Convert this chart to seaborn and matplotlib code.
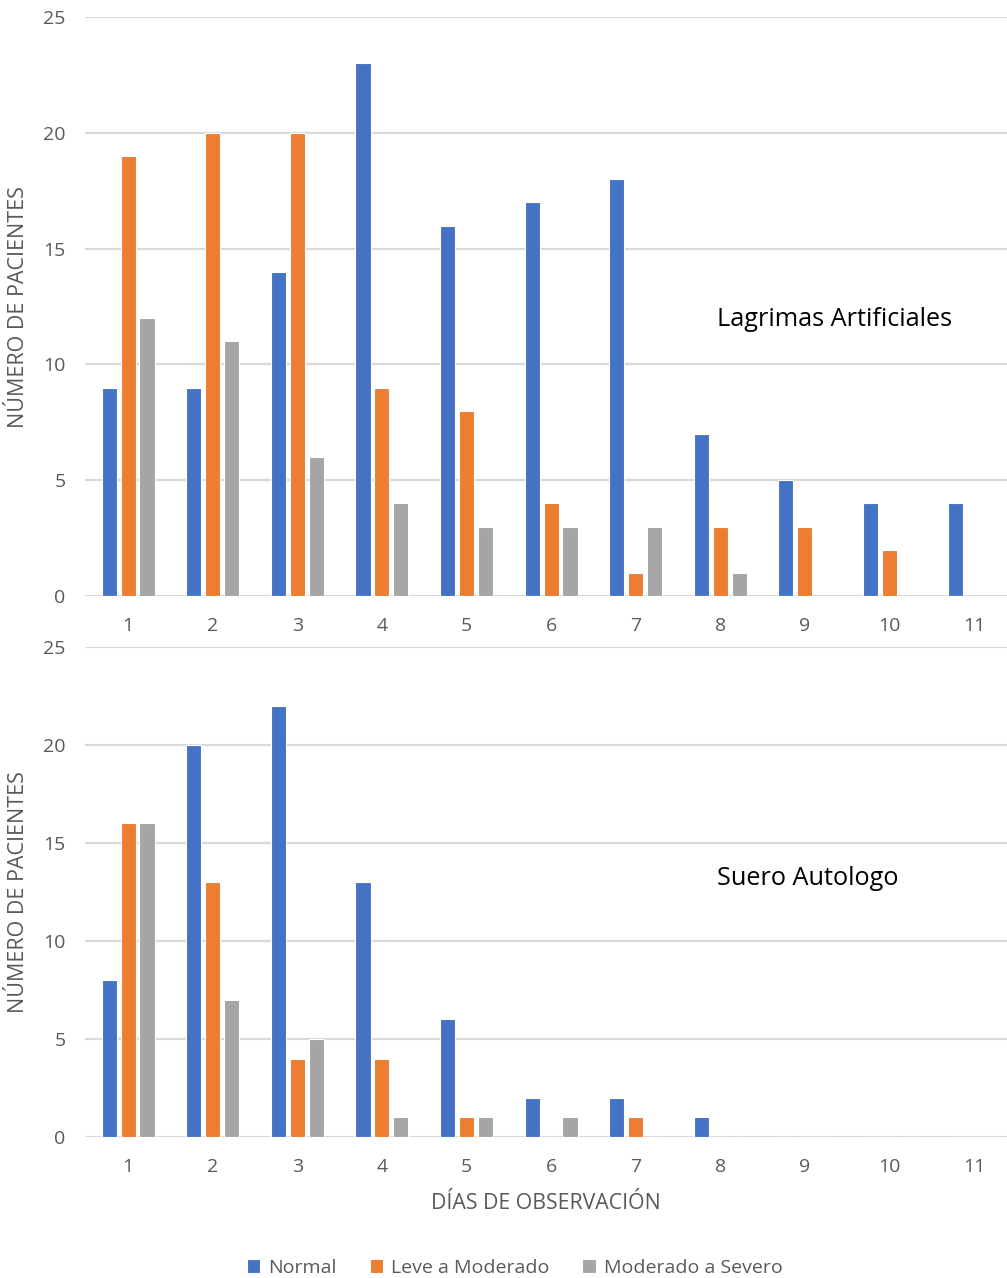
import pandas as pd
import seaborn as sns
import matplotlib.pyplot as plt

# data
dias = [1, 2, 3, 4, 5, 6, 7, 8, 9, 10, 11]
grupos = ["Normal", "Leve a Moderado", "Moderado a Severo"]

lagrimas_normal = [9, 9, 14, 23, 16, 17, 18, 7, 5, 4, 4]
lagrimas_leve = [19, 20, 20, 9, 8, 4, 1, 3, 3, 2, 0]
lagrimas_severo = [12, 11, 6, 4, 3, 3, 3, 1, 0, 0, 0]

suero_normal = [8, 20, 22, 13, 6, 2, 2, 1, 0, 0, 0]
suero_leve = [16, 13, 4, 4, 1, 0, 1, 0, 0, 0, 0]
suero_severo = [16, 7, 5, 1, 1, 1, 0, 0, 0, 0, 0]

colores = ["#4472C4", "#ED7D31", "#A5A5A5"]
gris = "#595959"


def to_long(normal, leve, severo):
    frames = []
    for g, vals in zip(grupos, [normal, leve, severo]):
        frames.append(pd.DataFrame({"Dia": [str(d) for d in dias], "Grupo": g, "Pacientes": vals}))
    return pd.concat(frames, ignore_index=True)


df_lag = to_long(lagrimas_normal, lagrimas_leve, lagrimas_severo)
df_sue = to_long(suero_normal, suero_leve, suero_severo)

sns.set_theme(style="white")
plt.rcParams['font.family'] = ['Open Sans', 'DejaVu Sans']

fig = plt.figure(figsize=(10.07, 12.78), dpi=100)
ax1 = fig.add_axes([0.0844, 0.5336, 0.9156, 0.453])
ax2 = fig.add_axes([0.0844, 0.1103, 0.9156, 0.3834])

for ax, df, nombre, ytxt in [(ax1, df_lag, "Lagrimas Artificiales", 0.477),
                             (ax2, df_sue, "Suero Autologo", 0.527)]:
    sns.barplot(data=df, x="Dia", y="Pacientes", hue="Grupo", hue_order=grupos,
                palette=colores, width=0.67, gap=0.2, edgecolor="white",
                linewidth=0.8, saturation=1, ax=ax, legend=(ax is ax2))
    ax.set_ylim(0, 25)
    ax.set_xlim(-0.51, 10.39)
    ax.set_yticks([0, 5, 10, 15, 20, 25])
    ax.yaxis.grid(True, color="#D9D9D9", linewidth=1.6)
    ax.set_axisbelow(True)
    for s in ax.spines.values():
        s.set_visible(False)
    ax.tick_params(axis="both", length=0, labelsize=14, labelcolor=gris)
    ax.tick_params(axis="x", pad=15)
    ax.tick_params(axis="y", pad=14)
    ax.set_ylabel("NÚMERO DE PACIENTES", fontsize=15.5, color=gris, labelpad=10)
    ax.set_xlabel("")
    ax.text(0.685, ytxt, nombre, transform=ax.transAxes, fontsize=18.2,
            color="black", va="center", ha="left")

ax2.set_xlabel("DÍAS DE OBSERVACIÓN", fontsize=15.3, color=gris, labelpad=12)

handles, labels = ax2.get_legend_handles_labels()
ax2.get_legend().remove()
fig.legend(handles, labels, loc="center", bbox_to_anchor=(0.511, 0.0078), ncol=3,
           frameon=False, fontsize=14, labelcolor=gris, handlelength=0.7,
           handleheight=0.7, handletextpad=0.4, columnspacing=1.7)

fig.savefig("out.png", dpi=100)
